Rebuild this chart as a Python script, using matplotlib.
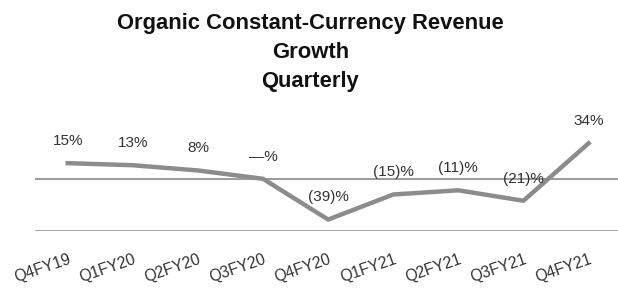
import matplotlib.pyplot as plt

plt.rcParams['font.family'] = ['Liberation Sans', 'DejaVu Sans']

# Quarterly organic constant-currency revenue growth (%)
quarters = ['Q4FY19', 'Q1FY20', 'Q2FY20', 'Q3FY20', 'Q4FY20',
            'Q1FY21', 'Q2FY21', 'Q3FY21', 'Q4FY21']
growth = [15, 13, 8, 0, -39, -15, -11, -21, 34]


def fmt(v):
    # negative values in parentheses, zero as a dash
    if v == 0:
        return '\u2014%'
    if v < 0:
        return f'({-v})%'
    return f'{v}%'


fig = plt.figure(figsize=(6.18, 2.91), dpi=100)
ax = fig.add_axes([0.057, 0.206, 0.948, 0.359])

x = range(len(quarters))
ax.plot(x, growth, color='#8c8c8c', linewidth=3.2, solid_joinstyle='round', zorder=3)

# zero line and bottom rule
ax.axhline(0, color='#9a9a9a', linewidth=1.4, zorder=1)
ax.axhline(-50, color='#a8a8a8', linewidth=1.4, zorder=1)

for i, v in enumerate(growth):
    ax.annotate(fmt(v), (i, v), xytext=(0, 16), textcoords='offset points',
                ha='center', va='center', fontsize=11, color='#333333')

ax.set_xlim(-0.5, len(quarters) - 0.5)
ax.set_ylim(-50, 50)
ax.set_xticks(list(x))
ax.set_xticklabels(quarters, rotation=19, ha='right', rotation_mode='anchor',
                   fontsize=11.3, color='#333333')
ax.tick_params(axis='x', length=0, pad=15)
ax.set_yticks([])
for s in ax.spines.values():
    s.set_visible(False)

fig.text(0.502, 0.955, 'Organic Constant-Currency Revenue\nGrowth\nQuarterly',
         ha='center', va='top', fontsize=15.8, fontweight='bold',
         linespacing=1.5, color='#111111')

fig.savefig('out.png', dpi=100)
